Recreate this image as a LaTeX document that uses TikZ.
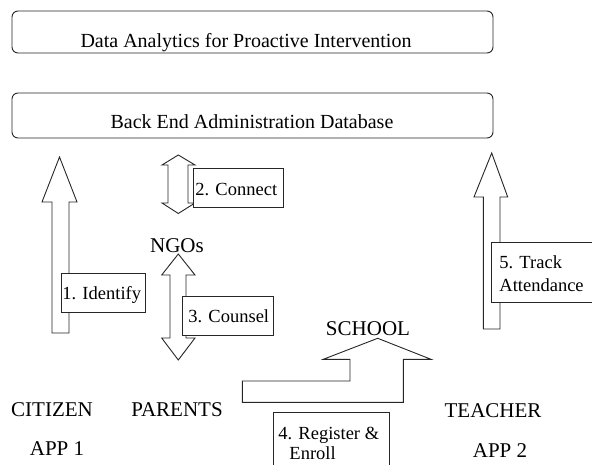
\documentclass[tikz,border=0pt]{standalone}
\usepackage{fontspec}
\setmainfont{Liberation Serif}
\begin{document}
\begin{tikzpicture}[x=1pt,y=-1pt,
  line width=0.9pt,
  outline/.style={draw=black!85},
  roundbox/.style={outline, rounded corners=6pt, fill=white},
  blockarrow/.style={outline, fill=white, line join=miter},
  lblbox/.style={outline, fill=white, inner sep=0pt},
  bigtext/.style={inner sep=0pt, anchor=base, font=\fontsize{20}{24}\selectfont},
  wordtext/.style={inner sep=0pt, anchor=base, font=\fontsize{21}{25}\selectfont},
  lbltext/.style={inner sep=0pt, anchor=base west, font=\fontsize{18.5}{22}\selectfont}]
\useasboundingbox (0,0) rectangle (592,465);
\clip (0,0) rectangle (592,465);

% top boxes
\node[roundbox, minimum width=481pt, minimum height=42pt] (top) at (252.5,32) {};
\node[bigtext] (toptext) at (246,47.5) {Data Analytics for Proactive Intervention};
\node[roundbox, minimum width=481pt, minimum height=45pt] (db) at (252.5,115.5) {};
\node[bigtext] (dbtext) at (252,129) {Back End Administration Database};

% arrow 1 (citizen up)
\draw[blockarrow] (52,333) -- (52,202) -- (42,202) -- (59.5,157) -- (77,202) -- (69,202) -- (69,333) -- cycle;
% arrow 5 (teacher up)
\draw[blockarrow] (483.3,329) -- (483.3,197) -- (474,197) -- (491.7,153) -- (507.7,197) -- (500,197) -- (500,329) -- cycle;
% double arrow 2
\draw[blockarrow] (178.3,155) -- (195,165) -- (188,165) -- (188,203) -- (195,203) -- (178.3,213.5) -- (162,203) -- (168,203) -- (168,165) -- (162,165) -- cycle;
% double arrow 3
\draw[blockarrow] (178.3,254) -- (195,275) -- (186,275) -- (186,338) -- (195,338) -- (178.3,360) -- (161.7,338) -- (170,338) -- (170,275) -- (161.7,275) -- cycle;
% bent arrow to school
\draw[blockarrow] (242.3,402.3) -- (242.3,381) -- (350,381) -- (350,359.3) -- (323.3,359.3) -- (377.7,338.3) -- (431,359.3) -- (403.3,359.3) -- (403.3,402.3) -- cycle;

% label boxes
\node[lblbox, minimum width=84pt, minimum height=39pt] (l1) at (103,292.5) {};
\node[lbltext] at (62,300) {1. Identify};
\node[lblbox, minimum width=90pt, minimum height=39pt] (l2) at (238,187.5) {};
\node[lbltext] at (195,196) {2. Connect};
\node[lblbox, minimum width=91pt, minimum height=39pt] (l3) at (227.5,315.5) {};
\node[lbltext] at (188,323) {3. Counsel};
\node[lblbox, minimum width=116pt, minimum height=70pt] (l4) at (331,447) {};
\node[lbltext] at (278,439) {4. Register \&};
\node[lbltext] at (289,459) {Enroll};
\node[lblbox, minimum width=109pt, minimum height=60pt] (l5) at (545.5,272) {};
\node[lbltext] at (499,269) {5. Track};
\node[lbltext] at (499,291) {Attendance};

% plain texts
\node[wordtext] (ngo) at (177,253) {NGOs};
\node[wordtext] (school) at (368,335) {SCHOOL};
\node[wordtext] (citizen) at (52,416) {CITIZEN};
\node[wordtext] (app1) at (57,455) {APP 1};
\node[wordtext] (parents) at (177,416) {PARENTS};
\node[wordtext] (teacher) at (493,417) {TEACHER};
\node[wordtext] (app2) at (500,457) {APP 2};
\end{tikzpicture}
\end{document}
